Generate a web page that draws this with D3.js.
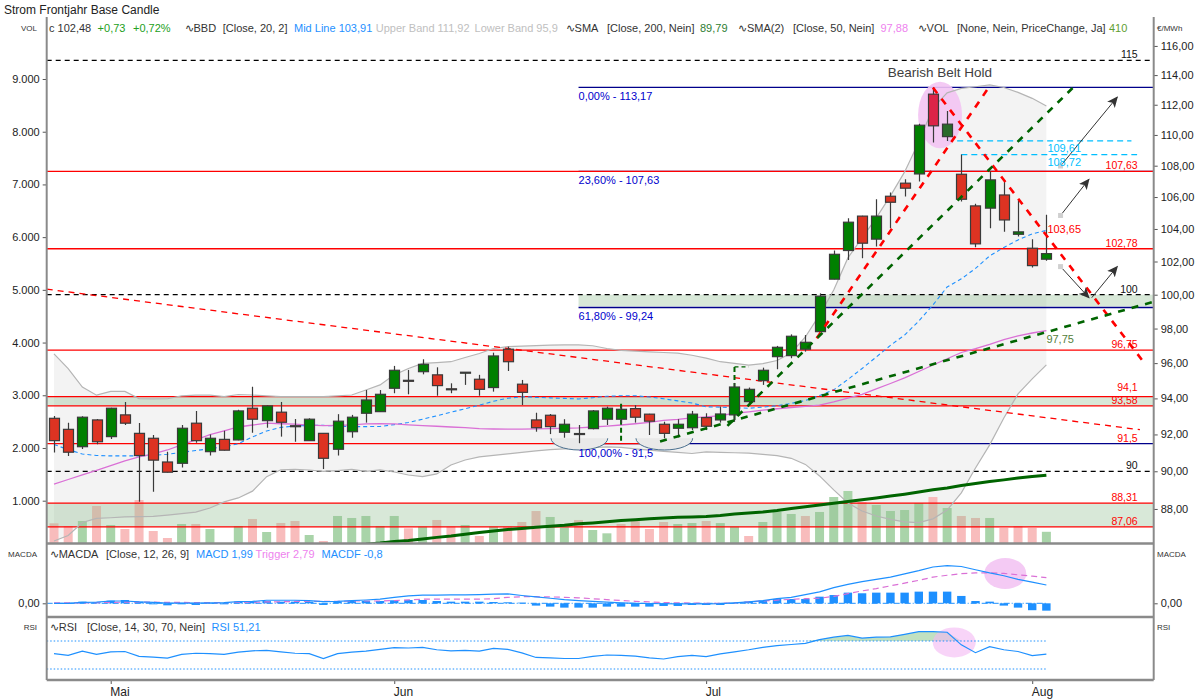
<!DOCTYPE html>
<html><head><meta charset="utf-8">
<script src="https://cdn.jsdelivr.net/npm/d3@7"></script>
<style>
body{margin:0;background:#fff;}
svg{display:block;font-family:"Liberation Sans",Arial,sans-serif;}
</style></head><body>
<svg id="c" width="1200" height="700"></svg>
<script>
// ---------------- DATA ----------------
const open  = [92.89,92.28,91.33,92.80,91.88,93.08,92.06,91.79,90.50,90.43,
               92.62,91.06,91.73,91.70,93.45,92.76,93.23,92.48,91.66,92.06,
               91.19,92.15,93.17,93.26,94.57,95.02,95.51,95.33,94.54,95.48,
               95.08,94.61,96.80,94.80,92.80,93.06,92.12,92.05,92.32,92.84,
               92.84,93.43,93.12,92.56,92.34,92.37,92.93,92.80,93.08,93.82,
               95.00,96.37,96.43,96.80,97.82,100.93,102.67,104.80,103.37,106.05,
               106.88,107.47,112.71,109.89,107.45,105.44,105.30,106.13,103.67,102.81,
               102.14];
const high  = [93.02,92.65,93.00,92.85,93.47,93.80,92.63,91.97,91.06,92.52,
               93.30,92.00,92.20,93.36,94.66,93.61,93.80,92.85,92.89,92.08,
               93.12,93.08,94.47,94.47,95.84,95.61,96.22,95.76,94.85,95.48,
               95.33,96.60,96.95,95.04,93.20,93.13,92.84,92.52,93.35,93.54,
               93.58,93.62,93.14,92.70,92.84,93.30,93.17,93.54,94.87,94.61,
               95.74,96.99,97.66,97.62,100.08,102.67,104.67,104.82,105.86,106.28,
               107.13,110.73,113.18,111.59,108.72,105.57,107.62,106.98,105.80,103.37,
               104.88];
const low   = [91.01,90.83,91.21,91.46,91.75,92.52,88.38,88.91,89.93,90.20,
               91.55,90.85,91.12,91.68,92.09,92.37,91.88,91.60,91.64,90.12,
               90.85,91.82,92.65,93.24,94.29,94.23,95.36,94.15,94.29,94.76,
               94.15,94.38,95.55,93.63,92.15,92.02,91.82,91.52,92.28,92.52,
               92.62,92.65,91.97,91.79,91.84,92.24,92.24,92.65,92.70,93.63,
               94.76,95.65,96.28,96.66,97.80,100.92,102.09,102.20,102.91,104.05,
               106.03,106.98,109.50,109.61,105.71,102.87,104.04,103.83,103.53,101.63,
               102.05];
const close = [91.66,91.03,92.95,91.60,93.45,92.62,90.85,90.60,89.95,92.34,
               91.66,91.79,91.14,93.30,92.84,93.58,92.67,92.46,92.84,90.70,
               92.73,92.95,93.91,94.23,95.59,95.00,95.93,94.72,94.52,95.48,
               94.51,96.41,96.08,94.34,92.37,92.43,92.56,92.03,93.30,93.45,
               93.39,92.95,92.73,92.06,92.56,93.12,92.45,93.13,94.64,94.51,
               95.59,96.91,97.55,97.20,99.91,102.44,104.42,103.12,104.80,105.67,
               106.56,110.64,110.60,110.71,105.86,103.08,107.09,104.56,103.82,101.75,
               102.48];
const volume = [571,520,615,899,539,463,1013,425,292,558,
                558,463,150,520,653,406,577,615,349,235,
                710,672,710,520,710,476,507,634,507,539,
                330,507,507,596,804,691,495,634,444,381,
                558,653,463,596,558,577,615,575,507,330,
                596,786,748,710,786,1070,1184,975,918,804,
                823,956,1070,861,710,672,672,482,520,482,
                410];
const bbUpper = [96.53,95.69,94.64,94.18,94.39,94.39,93.99,93.97,93.98,94.14,
                 94.18,94.18,94.10,94.22,94.19,94.14,94.10,94.10,94.10,94.10,
                 94.14,94.19,94.47,94.76,95.33,95.69,95.98,96.03,96.08,96.32,
                 96.55,96.84,96.95,96.98,97.01,97.03,97.05,97.05,97.00,96.84,
                 96.73,96.69,96.65,96.61,96.57,96.45,96.29,96.08,95.98,95.89,
                 95.97,96.15,96.58,97.51,98.80,100.28,102.22,103.45,104.69,106.07,
                 107.60,109.54,111.79,112.80,113.10,113.21,113.33,113.16,112.83,112.43,
                 111.92];
const bbLower = [86.33,86.62,87.29,87.51,87.54,87.58,87.60,87.61,87.68,87.75,
                 87.83,88.05,88.37,88.58,88.94,89.71,90.08,90.10,90.07,89.99,
                 90.04,90.10,89.99,90.07,89.96,89.80,89.71,89.86,90.34,90.61,
                 90.78,90.86,90.94,91.02,91.10,91.17,91.21,91.24,91.28,91.32,
                 91.29,91.21,91.14,91.08,91.02,90.96,91.05,91.02,91.00,90.98,
                 90.91,90.84,90.70,90.37,89.75,89.01,88.31,87.89,87.63,87.45,
                 87.32,87.29,87.48,87.94,88.85,90.18,91.43,92.91,94.25,95.10,
                 95.90];
const bbMid = [91.45,91.17,90.93,90.85,90.83,90.83,90.83,90.86,90.92,91.02,
               91.12,91.22,91.32,91.49,91.86,92.19,92.39,92.46,92.50,92.50,
               92.46,92.43,92.43,92.44,92.54,92.66,92.84,93.03,93.23,93.42,
               93.62,93.84,94.01,94.09,94.06,94.03,94.00,93.97,94.04,94.12,
               94.15,94.15,94.08,93.98,93.86,93.74,93.53,93.51,93.48,93.45,
               93.51,93.59,93.72,93.88,94.16,94.48,95.07,95.69,96.35,97.02,
               97.62,98.44,99.39,100.46,100.95,101.58,102.34,102.86,103.32,103.69,
               103.91];
const sma50 = [89.31,89.56,89.81,90.05,90.30,90.56,90.78,90.94,91.15,91.43,
               91.70,91.99,92.20,92.41,92.52,92.62,92.59,92.57,92.51,92.48,
               92.50,92.53,92.58,92.60,92.58,92.53,92.49,92.45,92.41,92.37,
               92.32,92.30,92.29,92.29,92.31,92.32,92.34,92.36,92.41,92.46,
               92.52,92.59,92.67,92.77,92.83,92.91,92.97,93.04,93.17,93.25,
               93.34,93.42,93.49,93.55,93.62,93.81,94.02,94.23,94.53,94.84,
               95.16,95.52,95.89,96.25,96.61,96.83,97.08,97.36,97.57,97.74,
               97.88];
const sma200 = [null,null,null,null,null,null,null,null,null,null,
                null,null,null,null,null,null,null,null,null,null,
                null,null,86.17,86.23,86.31,86.36,86.44,86.52,86.59,86.68,
                86.77,86.85,86.93,86.98,87.04,87.10,87.15,87.22,87.27,87.33,
                87.39,87.44,87.49,87.52,87.56,87.58,87.61,87.66,87.74,87.79,
                87.84,87.92,88.02,88.12,88.21,88.30,88.39,88.48,88.58,88.68,
                88.78,88.89,89.01,89.11,89.24,89.35,89.45,89.54,89.64,89.72,
                89.79];
const macd = [0.0,0.0,0.1,0.12,0.25,0.25,0.15,0.1,0.03,0.03,
              0.03,0.05,0.08,0.18,0.2,0.33,0.33,0.33,0.3,0.18,
              0.22,0.3,0.36,0.45,0.65,0.8,0.9,0.9,0.92,0.92,
              0.95,1.0,1.02,0.85,0.7,0.55,0.4,0.3,0.2,0.12,
              0.05,0.0,-0.02,-0.05,-0.07,-0.07,-0.07,-0.03,0.05,0.15,
              0.3,0.5,0.65,0.95,1.25,1.7,2.05,2.35,2.6,2.85,
              3.2,3.55,3.95,4.1,4.0,3.65,3.3,3.0,2.6,2.3,
              1.99];
const trigger = [0.05,0.05,0.05,0.07,0.1,0.12,0.12,0.12,0.1,0.1,
                 0.08,0.08,0.08,0.1,0.12,0.15,0.17,0.2,0.2,0.2,
                 0.2,0.25,0.25,0.25,0.3,0.38,0.45,0.45,0.45,0.45,
                 0.45,0.5,0.65,0.72,0.72,0.7,0.65,0.6,0.5,0.4,
                 0.3,0.22,0.15,0.08,0.05,0.02,0.0,0.0,0.05,0.15,
                 0.25,0.35,0.43,0.5,0.55,0.75,1.05,1.35,1.6,1.9,
                 2.2,2.5,2.85,3.05,3.22,3.3,3.32,3.25,3.1,2.95,
                 2.79];
const macdHist = [0.0,0.05,0.18,0.1,0.29,0.36,0.18,-0.11,-0.22,-0.11,
                  -0.18,-0.07,-0.11,0.18,0.18,0.25,0.18,0.18,0.18,-0.18,
                  0.18,0.25,0.25,0.25,0.33,0.36,0.36,0.25,0.18,0.18,
                  0.18,0.14,0.11,0.07,-0.25,-0.36,-0.47,-0.47,-0.47,-0.36,
                  -0.36,-0.36,-0.36,-0.29,-0.29,-0.18,-0.18,-0.18,-0.05,0.18,
                  0.29,0.47,0.47,0.47,0.72,0.9,1.16,1.09,1.16,1.16,
                  1.16,1.27,1.27,1.27,0.8,0.25,0.18,-0.25,-0.47,-0.75,
                  -0.8];
const rsi = [52,49.5,55.5,51,54.5,55,48,47,45.5,51,
             52.5,52,51,54,56,56.5,54.5,52.5,52,45,
             52,54,55.5,58,60.5,60,61,57.5,56,56.5,
             55.5,59.5,58,53,46.5,46,45,45,48,50,
             49.5,48.5,46,44.3,47.6,49.5,47.8,51.5,54.5,57.5,
             61,63.5,65,66.5,72,75.5,78,74,75.5,76,
             79.5,83.3,83.3,82.5,64.5,53.3,61.9,57.5,55,49,
             51.21];

const tickIdx = [4, 24, 46, 69];
const tickLabels = ["Mai", "Jun", "Jul", "Aug"];
const priceTicks = [88,90,92,94,96,98,100,102,104,106,108,110,112,114,116];
const volTicks = [1000,2000,3000,4000,5000,6000,7000,8000,9000];

// annotations (values in index / price units)
const fibStart = 37;
const fibLevels = [113.17, 107.63, 99.24, 91.5];
const fibLabels = ["0,00% - 113,17", "23,60% - 107,63", "61,80% - 99,24", "100,00% - 91,5"];
const redLevels = [107.63, 102.78, 96.75, 94.1, 93.58, 91.5, 88.31, 87.06];
const redLabels = ["107,63", "102,78", "96,75", "94,1", "93,58", "91,5", "88,31", "87,06"];
const redEnds   = [null, null, null, null, null, 42.2, null, null];
const blackLevels = [115, 100, 90];
const blackLabels = ["115", "100", "90"];
const bandTops = [100, 94.1, 88.31];
const bandBottoms = [99.3, 93.58, 87.06];
const bandStarts = [37, null, null];
const cyanLevels = [109.61, 108.72];
const cyanLabels = ["109,61", "108,72"];
const cyanStarts = [63, 64];
const cyanEnds = [76.0, 76.4];
const redTrends = [[53.8, 97.43, 65.9, 113.11], [62.0, 113.15, 76.84, 96.08]];
const greenTrends = [[47.5, 92.47, 71.9, 113.17], [42.75, 91.62, 77.45, 99.55]];
const longTrend = [-0.515, 100.33, 76.6, 92.26];
const trendValueLabels = [[70, 103.65, "103,65"], [70, 97.75, "97,75"]];
const arrows = [[71, 107.98, 75, 112.51], [71, 104.84, 73, 107.13], [71, 101.69, 73, 99.82], [73.2, 99.82, 75, 101.69]];
const cups = [[35.06, 39.06], [41.05, 45.05]];
const cupTop = 91.79, cupBottom = 91.15;
const patternIdx = [62, 63];
const patternName = "Bearish Belt Hold";
const patternEllipse = [60.95, 64.05, 109.13, 113.55];
const greenMarkV = [[40, 93.7, 91.5], [48, 95.78, 92.8]];
const greenMarkH = [[48, 49, 95.78]];
const macdCircle = [67.1, 3.24];
const rsiCircle = [63.5, 67.9];

// ---------------- LAYOUT ----------------
const X0 = 46.7, X1 = 1153.7;
const mainTop = 17, mainBot = 543;
const macdTop = 545, macdBot = 616;
const rsiTop = 618, rsiBot = 680;
const svg = d3.select("#c");
const FONT = '"Liberation Sans", Arial, sans-serif';
const N = close.length;
const idx = d3.range(N);

const x = d3.scaleLinear().domain([-0.515, 77.57]).range([X0, X1]);
const y = d3.scaleLog().domain([86.23, 118.02]).range([mainBot, mainTop]);
const yv = d3.scaleLinear().domain([0, 10000]).range([553.4, 26.3]);
const ym = d3.scaleLinear().domain([-1.38, 6.34]).range([616, 545]);
const yr = d3.scaleLinear().domain([0, 100]).range([690, 620]);

const loc = d3.formatLocale({decimal: ",", thousands: ".", grouping: [3], currency: ["", "€"]});
const f0 = loc.format(",.0f"), f2 = loc.format(",.2f");

const defs = svg.append("defs");
function clip(id, y0, y1) {
  defs.append("clipPath").attr("id", id).append("rect")
    .attr("x", X0).attr("y", y0).attr("width", X1 - X0).attr("height", y1 - y0);
}
clip("cm", mainTop, mainBot); clip("cmacd", macdTop, macdBot); clip("crsi", rsiTop, rsiBot);
defs.append("marker").attr("id", "arr").attr("viewBox", "0 0 10 10")
  .attr("refX", 9).attr("refY", 5).attr("markerWidth", 11).attr("markerHeight", 11)
  .attr("markerUnits", "userSpaceOnUse").attr("orient", "auto")
  .append("path").attr("d", "M0,0.5 L10,5 L0,9.5 L2.5,5 Z").attr("fill", "#333");

const gm = svg.append("g").attr("clip-path", "url(#cm)");

// Bollinger fill
gm.append("path").datum(idx)
  .attr("d", d3.area().x(i => x(i)).y0(i => y(bbLower[i])).y1(i => y(bbUpper[i])))
  .attr("fill", "#f3f3f3");

// Volume
const isUp = i => i === 0 ? close[0] >= open[0] : close[i] >= close[i - 1];
gm.append("g").selectAll("rect").data(idx).join("rect")
  .attr("x", i => x(i) - 4.5).attr("width", 9)
  .attr("y", i => yv(volume[i])).attr("height", i => Math.max(0, mainBot - yv(volume[i])))
  .attr("fill", i => isUp(i) ? "#a9d4a9" : "#f8bcbc");

// bands
bandTops.forEach((t, k) => {
  const xs = bandStarts[k] == null ? X0 : x(bandStarts[k]);
  gm.append("rect").attr("x", xs).attr("width", X1 - xs)
    .attr("y", y(t)).attr("height", y(bandBottoms[k]) - y(t))
    .attr("fill", "#8fbc8f").attr("fill-opacity", 0.35);
});

// fib lines
fibLevels.forEach(v => {
  gm.append("line").attr("x1", x(fibStart)).attr("x2", X1).attr("y1", y(v)).attr("y2", y(v))
    .attr("stroke", "#00008b").attr("stroke-width", 1.3);
});
// red lines
redLevels.forEach((v, k) => {
  gm.append("line").attr("x1", X0).attr("x2", redEnds[k] == null ? X1 : x(redEnds[k]))
    .attr("y1", y(v)).attr("y2", y(v)).attr("stroke", "#ff0000").attr("stroke-width", 1.3);
});
blackLevels.forEach(v => {
  gm.append("line").attr("x1", X0).attr("x2", X1).attr("y1", y(v)).attr("y2", y(v))
    .attr("stroke", "#000").attr("stroke-width", 1.3).attr("stroke-dasharray", "5,4");
});
cyanLevels.forEach((v, k) => {
  gm.append("line").attr("x1", x(cyanStarts[k])).attr("x2", x(cyanEnds[k])).attr("y1", y(v)).attr("y2", y(v))
    .attr("stroke", "#00bfff").attr("stroke-width", 1.3).attr("stroke-dasharray", "6,4");
});

// pattern ellipse
{
  const [i0, i1, p0, p1] = patternEllipse;
  gm.append("ellipse").attr("cx", (x(i0) + x(i1)) / 2).attr("cy", (y(p0) + y(p1)) / 2)
    .attr("rx", (x(i1) - x(i0)) / 2).attr("ry", (y(p0) - y(p1)) / 2)
    .attr("fill", "#f3c4f3").attr("fill-opacity", 0.9);
}

// Bollinger lines
const lineOf = (arr, ys) => d3.line().defined(i => arr[i] != null).x(i => x(i)).y(i => ys(arr[i]));
gm.append("path").datum(idx).attr("d", lineOf(bbUpper, y)).attr("fill", "none").attr("stroke", "#b5b5b5").attr("stroke-width", 1.2);
gm.append("path").datum(idx).attr("d", lineOf(bbLower, y)).attr("fill", "none").attr("stroke", "#b5b5b5").attr("stroke-width", 1.2);
gm.append("path").datum(idx).attr("d", lineOf(bbMid, y)).attr("fill", "none").attr("stroke", "#1e90ff").attr("stroke-width", 1.1).attr("stroke-dasharray", "4,3");

// long red thin trend
gm.append("line").attr("x1", x(longTrend[0])).attr("y1", y(longTrend[1])).attr("x2", x(longTrend[2])).attr("y2", y(longTrend[3]))
  .attr("stroke", "#ff0000").attr("stroke-width", 1.3).attr("stroke-dasharray", "6,5");

// SMAs
gm.append("path").datum(idx).attr("d", lineOf(sma200, y)).attr("fill", "none").attr("stroke", "#006400").attr("stroke-width", 3);
gm.append("path").datum(idx).attr("d", lineOf(sma50, y)).attr("fill", "none").attr("stroke", "#da70d6").attr("stroke-width", 1.3);

// cups
cups.forEach(([a, b]) => {
  const x0 = x(a), x1 = x(b), yt = y(cupTop), yb = y(cupBottom);
  const rx = (x1 - x0) / 2, ry = yb - yt;
  gm.append("path").attr("d", `M${x0},${yt} A${rx},${ry} 0 0 0 ${x1},${yt} Z`).attr("fill", "#e9e9e9");
  gm.append("path").attr("d", `M${x0},${yt} A${rx},${ry} 0 0 0 ${x1},${yt}`).attr("fill", "none")
    .attr("stroke", "#4a6f8e").attr("stroke-width", 1);
});

// green markers
greenMarkV.forEach(([i, p0, p1]) => {
  gm.append("line").attr("x1", x(i)).attr("x2", x(i)).attr("y1", y(p0)).attr("y2", y(p1))
    .attr("stroke", "#006400").attr("stroke-width", 2).attr("stroke-dasharray", "5,3");
});
greenMarkH.forEach(([i0, i1, p]) => {
  gm.append("line").attr("x1", x(i0)).attr("x2", x(i1)).attr("y1", y(p)).attr("y2", y(p))
    .attr("stroke", "#006400").attr("stroke-width", 1.3).attr("stroke-dasharray", "4,3");
});

// candles
const cg = gm.append("g");
idx.forEach(i => {
  const cx = Math.round(x(i)) + 0.5;
  const up = close[i] >= open[i];
  let fill = up ? "#008000" : "#dd3322";
  if (patternIdx.includes(i)) fill = up ? "#2b6a2b" : "#dc2448";
  cg.append("line").attr("x1", cx).attr("x2", cx).attr("y1", y(high[i])).attr("y2", y(low[i]))
    .attr("stroke", "#3a3a3a").attr("stroke-width", 1.2);
  const yt = y(Math.max(open[i], close[i])), yb = y(Math.min(open[i], close[i]));
  cg.append("rect").attr("x", cx - 5).attr("y", yt).attr("width", 10).attr("height", Math.max(1, yb - yt))
    .attr("fill", fill).attr("stroke", "#3a3a3a").attr("stroke-width", 1.2);
});

// trend lines
redTrends.forEach(t => gm.append("line").attr("x1", x(t[0])).attr("y1", y(t[1])).attr("x2", x(t[2])).attr("y2", y(t[3]))
  .attr("stroke", "#ff0000").attr("stroke-width", 2.6).attr("stroke-dasharray", "7,7"));
greenTrends.forEach(t => gm.append("line").attr("x1", x(t[0])).attr("y1", y(t[1])).attr("x2", x(t[2])).attr("y2", y(t[3]))
  .attr("stroke", "#006400").attr("stroke-width", 2.6).attr("stroke-dasharray", "7,7"));

// arrows
arrows.forEach((a, k) => {
  gm.append("line").attr("x1", x(a[0])).attr("y1", y(a[1])).attr("x2", x(a[2])).attr("y2", y(a[3]))
    .attr("stroke", "#333").attr("stroke-width", 1).attr("marker-end", "url(#arr)");
  if (k < 3) gm.append("rect").attr("x", x(a[0]) - 2.5).attr("y", y(a[1]) - 2.5).attr("width", 5).attr("height", 5).attr("fill", "#d0d0d0");
});

// ---------------- labels in main panel ----------------
const lab = svg.append("g").attr("font-family", FONT).attr("font-size", 11);
const rightEdge = X1 - 16;
// right-hand level labels, nudged apart when they would collide
const rightLabs = redLevels.map((v, k) => ({v, txt: redLabels[k], col: "#ff0000"}))
  .concat(blackLevels.map((v, k) => ({v, txt: blackLabels[k], col: "#111"})))
  .map(d => Object.assign(d, {yy: y(d.v) - 2}))
  .sort((a, b) => b.yy - a.yy);
for (let k = 1; k < rightLabs.length; k++) {
  const gap = 12.5;
  if (rightLabs[k - 1].yy - rightLabs[k].yy < gap) rightLabs[k].yy = rightLabs[k - 1].yy - gap;
}
rightLabs.forEach(d => lab.append("text").attr("x", rightEdge).attr("y", d.yy).attr("text-anchor", "end")
  .attr("font-size", 10.5).attr("fill", d.col).text(d.txt));
cyanLevels.forEach((v, k) => lab.append("text").attr("x", x(N - 1) + 1).attr("y", y(v) + 11).attr("fill", "#00bfff").text(cyanLabels[k]));
fibLevels.forEach((v, k) => lab.append("text").attr("x", x(fibStart)).attr("y", y(v) + 13).attr("fill", "#0000cd").text(fibLabels[k]));
lab.append("text").attr("x", x(trendValueLabels[0][0]) + 1).attr("y", y(trendValueLabels[0][1]) - 2).attr("fill", "#ff0000").text(trendValueLabels[0][2]);
lab.append("text").attr("x", x(trendValueLabels[1][0])).attr("y", y(trendValueLabels[1][1]) + 10.5).attr("fill", "#55803a").text(trendValueLabels[1][2]);
lab.append("text").attr("x", x(patternIdx[0]) + 7).attr("y", y(113.84)).attr("text-anchor", "middle")
  .attr("font-size", 13.5).attr("fill", "#404040").text(patternName);

// ---------------- MACD panel ----------------
const gmac = svg.append("g").attr("clip-path", "url(#cmacd)");
gmac.append("ellipse").attr("cx", x(macdCircle[0])).attr("cy", ym(macdCircle[1])).attr("rx", 21).attr("ry", 15.5)
  .attr("fill", "#f3c4f3").attr("fill-opacity", 0.9);
gmac.append("line").attr("x1", X0).attr("x2", x(N - 1)).attr("y1", ym(0)).attr("y2", ym(0))
  .attr("stroke", "#1e90ff").attr("stroke-width", 1).attr("stroke-dasharray", "6,2,1,2");
gmac.append("g").selectAll("rect").data(idx).join("rect")
  .attr("x", i => x(i) - 4.2).attr("width", 8.4)
  .attr("y", i => Math.min(ym(0), ym(macdHist[i]))).attr("height", i => Math.abs(ym(macdHist[i]) - ym(0)))
  .attr("fill", "#1e90ff");
gmac.append("path").datum(idx).attr("d", lineOf(trigger, ym)).attr("fill", "none").attr("stroke", "#da70d6").attr("stroke-width", 1.2).attr("stroke-dasharray", "6,4");
gmac.append("path").datum(idx).attr("d", lineOf(macd, ym)).attr("fill", "none").attr("stroke", "#1e90ff").attr("stroke-width", 1.2);

// ---------------- RSI panel ----------------
const grsi = svg.append("g").attr("clip-path", "url(#crsi)");
grsi.append("path").datum(idx)
  .attr("d", d3.area().x(i => x(i)).y0(yr(70)).y1(i => yr(Math.max(70, rsi[i]))))
  .attr("fill", "#a6d4a6").attr("fill-opacity", 0.7);
grsi.append("ellipse").attr("cx", x(rsiCircle[0])).attr("cy", yr(rsiCircle[1])).attr("rx", 21.5).attr("ry", 15)
  .attr("fill", "#f3b8f3").attr("fill-opacity", 0.6);
[70, 30].forEach(v => grsi.append("line").attr("x1", X0).attr("x2", x(N - 1)).attr("y1", yr(v)).attr("y2", yr(v))
  .attr("stroke", "#1e90ff").attr("stroke-width", 1).attr("stroke-dasharray", "1.5,2"));
grsi.append("path").datum(idx).attr("d", lineOf(rsi, yr)).attr("fill", "none").attr("stroke", "#1e90ff").attr("stroke-width", 1.2);

// ---------------- axes & frame ----------------
function styleAxis(g) {
  g.select(".domain").remove();
  g.selectAll("line").attr("stroke", "#555");
  g.selectAll("text").attr("fill", "#222").attr("font-family", FONT).attr("font-size", 11);
}
svg.append("g").attr("transform", `translate(${X1},0)`).call(d3.axisRight(y).tickValues(priceTicks).tickFormat(f2).tickSize(4)).call(styleAxis);
svg.append("g").attr("transform", `translate(${X0},0)`).call(d3.axisLeft(yv).tickValues(volTicks).tickFormat(f0).tickSize(4)).call(styleAxis);
svg.append("g").attr("transform", `translate(${X0},0)`).call(d3.axisLeft(ym).tickValues([0]).tickFormat(f2).tickSize(4)).call(styleAxis);
svg.append("g").attr("transform", `translate(${X1},0)`).call(d3.axisRight(ym).tickValues([0]).tickFormat(f2).tickSize(4)).call(styleAxis);
svg.append("g").attr("transform", `translate(0,${rsiBot})`)
  .call(d3.axisBottom(x).tickValues(tickIdx).tickFormat((d, k) => tickLabels[k]).tickSize(4))
  .call(styleAxis).call(g => g.selectAll("text").attr("text-anchor", "start").attr("dx", "-1").attr("font-size", 12));

const frame = svg.append("g").attr("stroke", "#8a8a8a");
[[X0, mainTop, X0, rsiBot], [X1, mainTop, X1, rsiBot]].forEach(l =>
  frame.append("line").attr("x1", l[0]).attr("y1", l[1]).attr("x2", l[2]).attr("y2", l[3]).attr("stroke-width", 2));
[mainBot + 0.5, macdBot + 1, rsiBot].forEach(v =>
  frame.append("line").attr("x1", X0).attr("x2", X1).attr("y1", v).attr("y2", v).attr("stroke-width", 2.5));

// ---------------- titles & legends ----------------
const t = svg.append("g").attr("font-family", FONT);
t.append("text").attr("x", 4).attr("y", 13.5).attr("font-size", 12).attr("fill", "#222").text("Strom Frontjahr Base Candle");
function legend(yy, parts) {
  parts.forEach(p => t.append("text").attr("x", p[0]).attr("y", yy).attr("font-size", 11).attr("fill", p[2]).text(p[1]));
}
const dark = "#333", blue = "#1e90ff";
legend(31.5, [[49, "c 102,48", dark], [97.6, "+0,73", "#22a022"], [133, "+0,72%", "#22a022"],
  [184.5, "∿BBD", dark], [222.7, "[Close, 20, 2]", dark], [294, "Mid Line 103,91", blue],
  [375.8, "Upper Band 111,92", "#c0c0c0"], [474.6, "Lower Band 95,9", "#c0c0c0"],
  [565.6, "∿SMA", dark], [607, "[Close, 200, Nein]", dark], [700, "89,79", "#2e7d32"],
  [738, "∿SMA(2)", dark], [793, "[Close, 50, Nein]", dark], [880.5, "97,88", "#ee82ee"],
  [917.6, "∿VOL", dark], [957, "[None, Nein, PriceChange, Ja]", dark], [1109, "410", "#5f9e2f"]]);
legend(558, [[49.7, "∿MACDA", dark], [106, "[Close, 12, 26, 9]", dark], [196, "MACD 1,99", blue],
  [255.6, "Trigger 2,79", "#ee82ee"], [321.5, "MACDF -0,8", blue]]);
legend(631, [[49.7, "∿RSI", dark], [87, "[Close, 14, 30, 70, Nein]", dark], [211.6, "RSI 51,21", blue]]);
function side(xx, yy, txt, anchor) {
  t.append("text").attr("x", xx).attr("y", yy).attr("font-size", 8).attr("fill", "#333").attr("text-anchor", anchor).text(txt);
}
side(37, 31, "VOL", "end"); side(37, 557, "MACDA", "end"); side(37, 630, "RSI", "end");
side(1157, 31, "€/MWh", "start"); side(1157, 557, "MACDA", "start"); side(1157, 630, "RSI", "start");
</script></body></html>
